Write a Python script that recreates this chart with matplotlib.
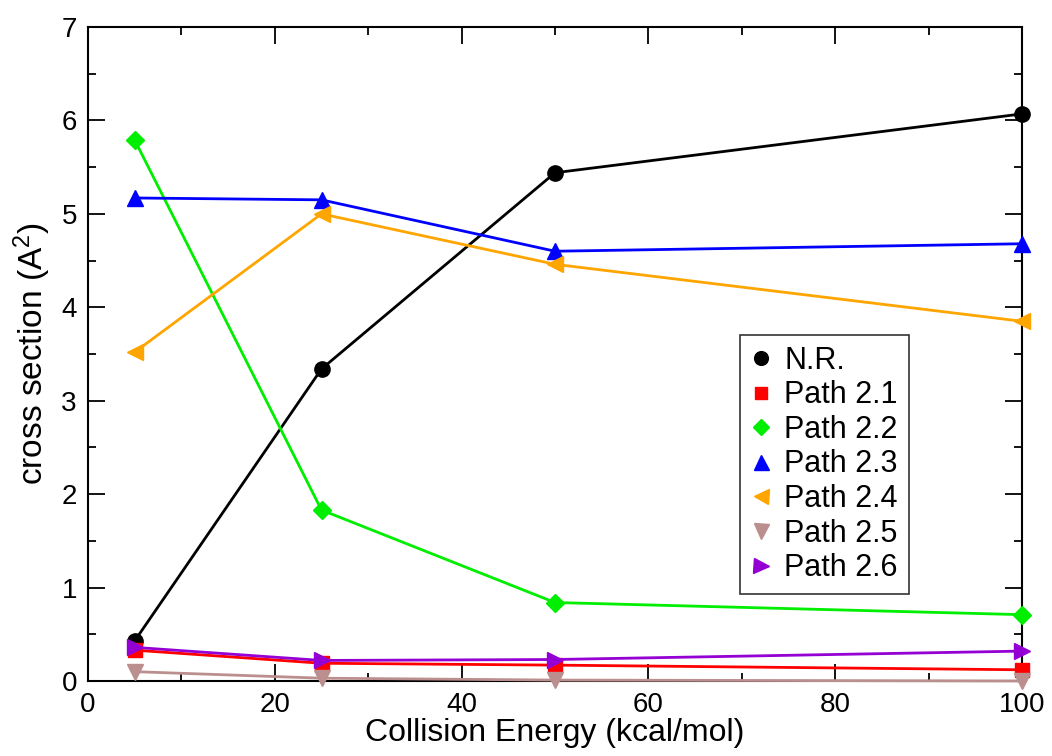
import matplotlib
matplotlib.use("Agg")
import matplotlib.pyplot as plt
from matplotlib.ticker import MultipleLocator

plt.rcParams['font.family'] = ['Liberation Sans', 'DejaVu Sans']
plt.rcParams['mathtext.fontset'] = 'custom'
plt.rcParams['mathtext.rm'] = 'Liberation Sans'
plt.rcParams['mathtext.it'] = 'Liberation Sans'
plt.rcParams['mathtext.default'] = 'regular'

energy = [5, 25, 50, 100]
nr = [0.43, 3.34, 5.44, 6.07]
p21 = [0.33, 0.19, 0.17, 0.12]
p22 = [5.79, 1.83, 0.84, 0.71]
p23 = [5.17, 5.15, 4.60, 4.68]
p24 = [3.52, 5.00, 4.46, 3.85]
p25 = [0.10, 0.03, 0.01, 0.00]
p26 = [0.36, 0.22, 0.23, 0.32]

series = [
    ("N.R.", nr, "black", "o", 11),
    ("Path 2.1", p21, "#ff0000", "s", 10),
    ("Path 2.2", p22, "#00ee00", "D", 9),
    ("Path 2.3", p23, "#0000ff", "^", 12),
    ("Path 2.4", p24, "#ffa500", "<", 12),
    ("Path 2.5", p25, "#bc8f8f", "v", 12),
    ("Path 2.6", p26, "#9400d3", ">", 12),
]

fig = plt.figure(figsize=(10.52, 7.56), dpi=100)
ax = fig.add_axes([88/1052, 1-681/756, (1022-88)/1052, (681-27)/756])

for name, ys, c, m, ms in series:
    ax.plot(energy, ys, color=c, marker=m, markersize=ms, linewidth=2,
            label=name, clip_on=False, zorder=3)

ax.set_xlim(0, 100)
ax.set_ylim(0, 7)
ax.xaxis.set_major_locator(MultipleLocator(20))
ax.xaxis.set_minor_locator(MultipleLocator(10))
ax.yaxis.set_major_locator(MultipleLocator(1))
ax.yaxis.set_minor_locator(MultipleLocator(0.5))
ax.tick_params(which='both', direction='in', top=True, right=True, width=1.3)
ax.tick_params(which='major', length=12, labelsize=20, pad=8)
ax.tick_params(which='minor', length=6)
for s in ax.spines.values():
    s.set_linewidth(1.5)

ax.set_xlabel("Collision Energy (kcal/mol)", fontsize=23, labelpad=0)
ax.set_ylabel("cross section (A$^2$)", fontsize=24, labelpad=6)

leg = ax.legend(loc='upper left', bbox_to_anchor=((740-88)/934, 1-(335-27)/654),
                fontsize=22, frameon=True, fancybox=False, edgecolor='black',
                handlelength=0.65, handletextpad=0.45, borderpad=0.35,
                labelspacing=0.15, borderaxespad=0, markerscale=0.9)
leg.get_frame().set_linewidth(1.2)
for h in leg.get_lines():
    h.set_linestyle('none')

fig.savefig("out.png", dpi=100)
